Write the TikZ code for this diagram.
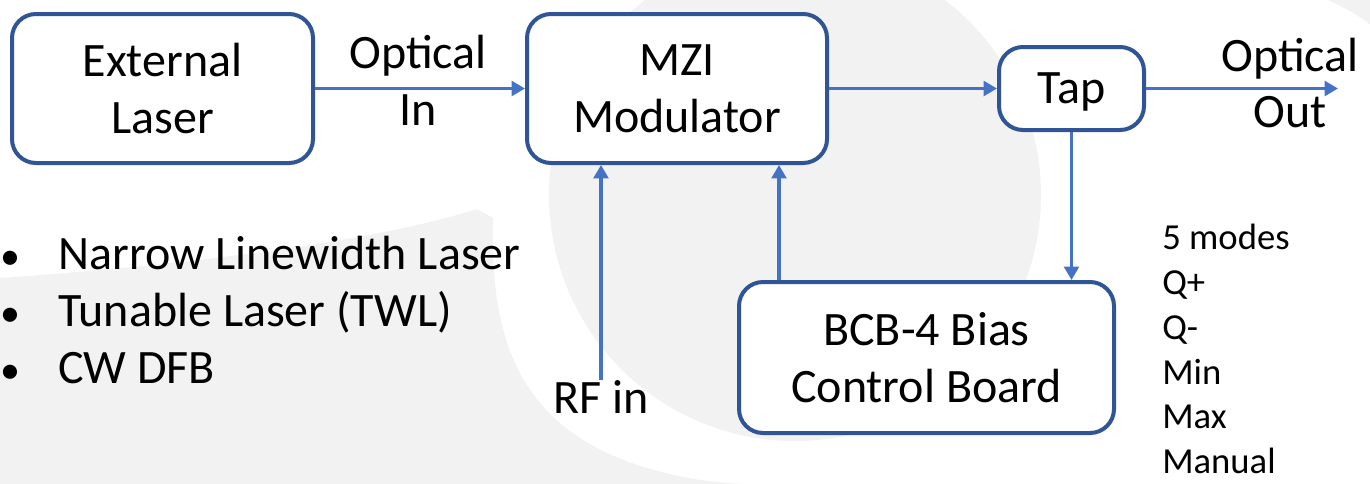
\documentclass[tikz,border=0pt]{standalone}
\usepackage{fontspec}
\setmainfont{Carlito}
\usetikzlibrary{arrows.meta}
\definecolor{boxblue}{RGB}{47,85,151}
\definecolor{lineblue}{RGB}{68,114,196}
\definecolor{wmgrey}{RGB}{242,242,242}
\newcommand{\bigfont}{\fontsize{36}{42.5}\selectfont}
\newcommand{\smallfont}{\fontsize{27.5}{33.6}\selectfont}
\newcommand{\blt}{\makebox[43.5pt][l]{\hspace{0.5pt}{\fontsize{30}{30}\selectfont\textbullet}}}
\begin{document}
\begin{tikzpicture}[x=0.75pt,y=0.75pt,yscale=-1,xscale=1,
  block/.style={draw=boxblue,line width=3pt,rounded corners=18pt,fill=white,align=center,inner sep=0pt,font=\bigfont},
  flow/.style={draw=lineblue,line width=2.4pt,-{Triangle[length=10pt,width=11pt]}},
  txt/.style={inner sep=0pt,align=center,font=\bigfont}]
\useasboundingbox (0,0) rectangle (1370,483);

%Shape: background watermark
\begin{scope}
\clip (0,0) rectangle (1370,483);
\fill[wmgrey] (795,195) circle (246);
\fill[wmgrey] (0,278) .. controls (200,264) and (380,240) .. (477,209) -- (493,218) .. controls (490,340) and (515,450) .. (700,480) .. controls (760,488) and (820,484) .. (860,490) -- (0,490) -- cycle;
\fill[wmgrey] (1328,0) .. controls (1345,8) and (1360,16) .. (1372,26) -- (1372,0) -- cycle;
\end{scope}

%Shape: blocks
\node[block,minimum width=225.75pt,minimum height=111.75pt] (laser) at (162.5,88.5) {External\\Laser};
\node[block,minimum width=225pt,minimum height=111.75pt] (mzi) at (677,88.5) {MZI\\Modulator};
\node[block,minimum width=108.75pt,minimum height=62.25pt,text depth=0pt] (tap) at (1071.5,88.5) {Tap};
\node[block,minimum width=281.25pt,minimum height=113.25pt] (bcb) at (926.5,357.5) {BCB-4 Bias\\Control Board};

% Text Node
\node[txt] (optin) at (418,80) {Optical\\In};
% Text Node
\node[txt] (optout) at (1290,83) {Optical\\Out};
% Text Node
\node[txt,anchor=base] (rf) at (601,413) {RF in};
% Text Node
\node[txt,align=left,anchor=west] (types) at (0,310) {\blt Narrow Linewidth Laser\\\blt Tunable Laser (TWL)\\\blt CW DFB};
% Text Node
\node[txt,align=left,anchor=west,font=\smallfont] (modes) at (1162,349) {5 modes\\Q+\\Q-\\Min\\Max\\Manual};

%Straight Lines
\coordinate (out) at (1338,88.5);
\coordinate (bias) at (779,0);
\draw[flow] (laser) -- (mzi);
\draw[flow] (mzi) -- (tap);
\draw[flow] (tap) -- (out);
\draw[flow] (tap.south) -- (tap.south |- bcb.north);
\draw[flow] (bias |- bcb.north) -- (bias |- mzi.south);
\draw[flow] (rf.north) -- (rf.north |- mzi.south);

\end{tikzpicture}
\end{document}
